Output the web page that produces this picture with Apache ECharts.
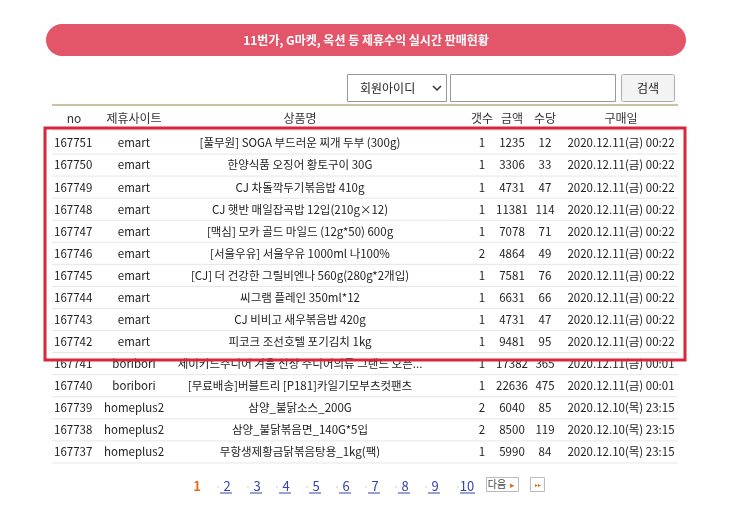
<!DOCTYPE html><html><head><meta charset="utf-8"><script src="https://cdn.jsdelivr.net/npm/echarts@6/dist/echarts.min.js"></script>
<style>html,body{margin:0;background:#fff}#c{width:743px;height:522px}</style></head><body><div id="c"></div><script>
const headers=['no','제휴사이트','상품명','갯수','금액','수당','구매일'];
const nos=[167751,167750,167749,167748,167747,167746,167745,167744,167743,167742,167741,167740,167739,167738,167737];
const sites=['emart','emart','emart','emart','emart','emart','emart','emart','emart','emart','boribori','boribori','homeplus2','homeplus2','homeplus2'];
const products=['[풀무원] SOGA 부드러운 찌개 두부 (300g)','한양식품 오징어 황토구이 30G','CJ 차돌깍두기볶음밥 410g','CJ 햇반 매일잡곡밥 12입(210g×12)','[맥심] 모카 골드 마일드 (12g*50) 600g','[서울우유] 서울우유 1000ml 나100%','[CJ] 더 건강한 그릴비엔나 560g(280g*2개입)','씨그램 플레인 350ml*12','CJ 비비고 새우볶음밥 420g','피코크 조선호텔 포기김치 1kg','제이키드주니어 겨울 신상 주니어의류 그랜드 오픈...','[무료배송]버블트리 [P181]카일기모부츠컷팬츠','삼양_불닭소스_200G','삼양_불닭볶음면_140G*5입','무항생제황금닭볶음탕용_1kg(팩)'];
const counts=[1,1,1,1,1,2,1,1,1,1,1,1,2,2,1];
const amounts=[1235,3306,4731,11381,7078,4864,7581,6631,4731,9481,17382,22636,6040,8500,5990];
const fees=[12,33,47,114,71,49,76,66,47,95,365,475,85,119,84];
const dates=['2020.12.11(금) 00:22','2020.12.11(금) 00:22','2020.12.11(금) 00:22','2020.12.11(금) 00:22','2020.12.11(금) 00:22','2020.12.11(금) 00:22','2020.12.11(금) 00:22','2020.12.11(금) 00:22','2020.12.11(금) 00:22','2020.12.11(금) 00:22','2020.12.11(금) 00:01','2020.12.11(금) 00:01','2020.12.10(목) 23:15','2020.12.10(목) 23:15','2020.12.10(목) 23:15'];
const pages=['1','2','3','4','5','6','7','8','9','10'];
const F='"Noto Sans CJK KR", sans-serif';
const g=[];
const T=(x,y,t,o={})=>g.push({type:'text',x,y,style:Object.assign({text:t,font:(o.w||'normal')+' '+(o.s||12)+'px '+F,fill:o.c||'#222',align:o.a||'left',verticalAlign:'middle'},o.st||{})});
const R=(x,y,w,h,st,r)=>g.push({type:'rect',shape:{x,y,width:w,height:h,r:r||0},style:st});
const L=(x1,y1,x2,y2,c,w)=>g.push({type:'line',shape:{x1,y1,x2,y2},style:{stroke:c,lineWidth:w||1}});
R(46,24,640,32,{fill:'#e3566a'},16);
T(366,40,'11번가, G마켓, 옥션 등 제휴수익 실시간 판매현황',{c:'#fff',w:'bold',s:12,a:'center'});
R(347.5,74.5,99,27,{fill:'#fff',stroke:'#999'});
T(360,88,'회원아이디',{s:12});
g.push({type:'polyline',shape:{points:[[433,86],[437,90],[441,86]]},style:{stroke:'#333',lineWidth:1.5,fill:null}});
R(450.5,74.5,165,27,{fill:'#fff',stroke:'#999'});
R(621.5,74.5,53,27,{fill:'#f3f3f3',stroke:'#aaa'},2);
T(648,88,'검색',{a:'center'});
L(52,105,678,105,'#cbbfa6',2);
const cx=[74,134,300,482,512,545,621];
headers.forEach((h,i)=>T(cx[i],118,h,{a:'center',c:'#333'}));
L(52,130,678,130,'#ddd');
const y0=143,dy=22.07;
nos.forEach((n,i)=>{const y=y0+i*dy;
 T(54,y,String(n),{s:11.5});
 T(134,y,sites[i],{a:'center',s:11.5});
 T(300,y,products[i],{a:'center',s:11.5});
 T(482,y,String(counts[i]),{a:'center',s:11.5});
 T(512,y,String(amounts[i]),{a:'center',s:11.5});
 T(545,y,String(fees[i]),{a:'center',s:11.5});
 T(621,y,dates[i],{a:'center',s:11.5});
 L(52,y+11,678,y+11,'#e6e6e6');
});
R(45,128,640,232,{fill:null,stroke:'#d7263d',lineWidth:3});
const px=[197,227,257,286,316,346,375,405,435,467];
pages.forEach((p,i)=>{T(px[i],486,p,i===0?{c:'#e07020',w:'bold',s:13,a:'center'}:{c:'#3344aa',s:13,a:'center',st:{}});
 if(i>0)L(px[i]-9,480+6,px[i]-9,484+4,'#ccc');
 if(i>0)L(px[i]-7,493,px[i]+(p.length>1?8:5),493,'#3344aa');});
R(486.5,477.5,32,14,{fill:'#fff',stroke:'#bbb'});
T(497,484.5,'다음',{s:10,a:'center',c:'#444'});
T(512,484.5,'▸',{s:9,a:'center',c:'#e07020'});
R(530.5,477.5,14,14,{fill:'#fff',stroke:'#bbb'});
T(537.5,484.5,'▸▸',{s:6,a:'center',c:'#e07020'});
const ch=echarts.init(document.getElementById('c'));
ch.setOption({animation:false,graphic:g});
</script></body></html>
